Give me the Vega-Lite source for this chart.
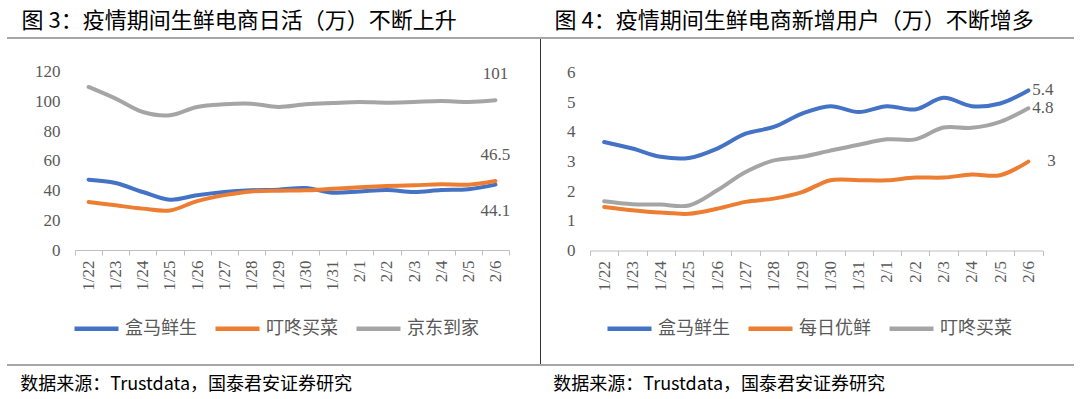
{
  "$schema": "https://vega.github.io/schema/vega-lite/v6.json",
  "padding": {"left": -2, "top": 10, "right": 0, "bottom": 0},
  "bounds": "flush",
  "spacing": 0,
  "background": "white",
  "config": {"view": {"stroke": null}},
  "datasets": {
    "left": [
      {"d": "1/22", "s": "盒马鲜生", "v": 47.4}, {"d": "1/23", "s": "盒马鲜生", "v": 45.2}, {"d": "1/24", "s": "盒马鲜生", "v": 39.1}, {"d": "1/25", "s": "盒马鲜生", "v": 33.9},
      {"d": "1/26", "s": "盒马鲜生", "v": 36.9}, {"d": "1/27", "s": "盒马鲜生", "v": 39.1}, {"d": "1/28", "s": "盒马鲜生", "v": 40.3}, {"d": "1/29", "s": "盒马鲜生", "v": 40.7},
      {"d": "1/30", "s": "盒马鲜生", "v": 41.8}, {"d": "1/31", "s": "盒马鲜生", "v": 38.6}, {"d": "2/1", "s": "盒马鲜生", "v": 39.5}, {"d": "2/2", "s": "盒马鲜生", "v": 40.5},
      {"d": "2/3", "s": "盒马鲜生", "v": 39.1}, {"d": "2/4", "s": "盒马鲜生", "v": 40.5}, {"d": "2/5", "s": "盒马鲜生", "v": 41.0}, {"d": "2/6", "s": "盒马鲜生", "v": 44.1},
      {"d": "1/22", "s": "叮咚买菜", "v": 32.4}, {"d": "1/23", "s": "叮咚买菜", "v": 30.1}, {"d": "1/24", "s": "叮咚买菜", "v": 27.9}, {"d": "1/25", "s": "叮咚买菜", "v": 26.7},
      {"d": "1/26", "s": "叮咚买菜", "v": 33.0}, {"d": "1/27", "s": "叮咚买菜", "v": 37.0}, {"d": "1/28", "s": "叮咚买菜", "v": 39.5}, {"d": "1/29", "s": "叮咚买菜", "v": 40.0},
      {"d": "1/30", "s": "叮咚买菜", "v": 40.2}, {"d": "1/31", "s": "叮咚买菜", "v": 41.3}, {"d": "2/1", "s": "叮咚买菜", "v": 42.3}, {"d": "2/2", "s": "叮咚买菜", "v": 43.1},
      {"d": "2/3", "s": "叮咚买菜", "v": 43.6}, {"d": "2/4", "s": "叮咚买菜", "v": 44.3}, {"d": "2/5", "s": "叮咚买菜", "v": 44.0}, {"d": "2/6", "s": "叮咚买菜", "v": 46.5},
      {"d": "1/22", "s": "京东到家", "v": 109.9}, {"d": "1/23", "s": "京东到家", "v": 102.0}, {"d": "1/24", "s": "京东到家", "v": 93.0}, {"d": "1/25", "s": "京东到家", "v": 90.8},
      {"d": "1/26", "s": "京东到家", "v": 96.4}, {"d": "1/27", "s": "京东到家", "v": 98.2}, {"d": "1/28", "s": "京东到家", "v": 98.6}, {"d": "1/29", "s": "京东到家", "v": 96.4},
      {"d": "1/30", "s": "京东到家", "v": 98.2}, {"d": "1/31", "s": "京东到家", "v": 99.1}, {"d": "2/1", "s": "京东到家", "v": 99.8}, {"d": "2/2", "s": "京东到家", "v": 99.3},
      {"d": "2/3", "s": "京东到家", "v": 99.8}, {"d": "2/4", "s": "京东到家", "v": 100.4}, {"d": "2/5", "s": "京东到家", "v": 99.8}, {"d": "2/6", "s": "京东到家", "v": 101}
    ],
    "right": [
      {"d": "1/22", "s": "盒马鲜生", "v": 3.66}, {"d": "1/23", "s": "盒马鲜生", "v": 3.44}, {"d": "1/24", "s": "盒马鲜生", "v": 3.16}, {"d": "1/25", "s": "盒马鲜生", "v": 3.12},
      {"d": "1/26", "s": "盒马鲜生", "v": 3.44}, {"d": "1/27", "s": "盒马鲜生", "v": 3.94}, {"d": "1/28", "s": "盒马鲜生", "v": 4.17}, {"d": "1/29", "s": "盒马鲜生", "v": 4.62},
      {"d": "1/30", "s": "盒马鲜生", "v": 4.87}, {"d": "1/31", "s": "盒马鲜生", "v": 4.67}, {"d": "2/1", "s": "盒马鲜生", "v": 4.87}, {"d": "2/2", "s": "盒马鲜生", "v": 4.76},
      {"d": "2/3", "s": "盒马鲜生", "v": 5.15}, {"d": "2/4", "s": "盒马鲜生", "v": 4.87}, {"d": "2/5", "s": "盒马鲜生", "v": 4.96}, {"d": "2/6", "s": "盒马鲜生", "v": 5.4},
      {"d": "1/22", "s": "每日优鲜", "v": 1.47}, {"d": "1/23", "s": "每日优鲜", "v": 1.36}, {"d": "1/24", "s": "每日优鲜", "v": 1.28}, {"d": "1/25", "s": "每日优鲜", "v": 1.24},
      {"d": "1/26", "s": "每日优鲜", "v": 1.41}, {"d": "1/27", "s": "每日优鲜", "v": 1.64}, {"d": "1/28", "s": "每日优鲜", "v": 1.75}, {"d": "1/29", "s": "每日优鲜", "v": 1.97},
      {"d": "1/30", "s": "每日优鲜", "v": 2.37}, {"d": "1/31", "s": "每日优鲜", "v": 2.37}, {"d": "2/1", "s": "每日优鲜", "v": 2.37}, {"d": "2/2", "s": "每日优鲜", "v": 2.46},
      {"d": "2/3", "s": "每日优鲜", "v": 2.46}, {"d": "2/4", "s": "每日优鲜", "v": 2.56}, {"d": "2/5", "s": "每日优鲜", "v": 2.54}, {"d": "2/6", "s": "每日优鲜", "v": 3},
      {"d": "1/22", "s": "叮咚买菜", "v": 1.66}, {"d": "1/23", "s": "叮咚买菜", "v": 1.56}, {"d": "1/24", "s": "叮咚买菜", "v": 1.55}, {"d": "1/25", "s": "叮咚买菜", "v": 1.52},
      {"d": "1/26", "s": "叮咚买菜", "v": 2.03}, {"d": "1/27", "s": "叮咚买菜", "v": 2.65}, {"d": "1/28", "s": "叮咚买菜", "v": 3.04}, {"d": "1/29", "s": "叮咚买菜", "v": 3.16},
      {"d": "1/30", "s": "叮咚买菜", "v": 3.37}, {"d": "1/31", "s": "叮咚买菜", "v": 3.57}, {"d": "2/1", "s": "叮咚买菜", "v": 3.75}, {"d": "2/2", "s": "叮咚买菜", "v": 3.75},
      {"d": "2/3", "s": "叮咚买菜", "v": 4.15}, {"d": "2/4", "s": "叮咚买菜", "v": 4.14}, {"d": "2/5", "s": "叮咚买菜", "v": 4.34}, {"d": "2/6", "s": "叮咚买菜", "v": 4.8}
    ]
  },
  "hconcat": [
    {
      "width": 533,
      "height": 327,
      "title": {"text": "图 3：疫情期间生鲜电商日活（万）不断上升", "anchor": "start", "frame": "group", "dx": 14.5, "offset": -13, "fontSize": 22, "font": "Noto Sans CJK SC", "fontWeight": "normal", "color": "#000000", "baseline": "alphabetic"},
      "data": {"name": "left"},
      "layer": [
        {
          "data": {"values": [{}]},
          "mark": {"type": "rule", "color": "#a6a6a6", "strokeWidth": 1.8},
          "encoding": {"y": {"datum": 142.9, "type": "quantitative", "scale": {"domain": [-77.5, 142.9], "nice": false, "zero": false}, "axis": null}}
        },
        {
          "data": {"values": [{}]},
          "mark": {"type": "rule", "color": "#a6a6a6", "strokeWidth": 1.8},
          "encoding": {"y": {"datum": -77.5, "type": "quantitative", "scale": {"domain": [-77.5, 142.9], "nice": false, "zero": false},
            "axis": {"orient": "right", "labels": false, "ticks": false, "domain": true, "domainColor": "#333333", "domainWidth": 1, "grid": false, "title": null}}}
        },
        {
          "mark": {"type": "line", "strokeWidth": 4, "interpolate": "catmull-rom", "strokeCap": "round"},
          "encoding": {
            "x": {"field": "d", "type": "ordinal", "bandPosition": 0.5,
              "scale": {"type": "band", "domain": ["1/22","1/23","1/24","1/25","1/26","1/27","1/28","1/29","1/30","1/31","2/1","2/2","2/3","2/4","2/5","2/6"], "range": [68, 502], "paddingInner": 0, "paddingOuter": 0},
              "axis": {"orient": "bottom", "offset": -115, "domainColor": "#bfbfbf", "tickColor": "#bfbfbf", "tickSize": 5, "tickBand": "extent", "labelAngle": 270, "labelPadding": 5, "labelFont": "Liberation Serif", "labelFontSize": 17, "labelColor": "#595959", "labelOverlap": false, "grid": false,
                "title": "数据来源：Trustdata，国泰君安证券研究", "titleX": 12.8, "titleY": 134, "titleAlign": "left", "titleBaseline": "middle", "titleFont": "Noto Sans CJK SC", "titleFontSize": 18, "titleFontWeight": "normal", "titleColor": "#000000"}},
            "y": {"field": "v", "type": "quantitative", "scale": {"domain": [-77.5, 142.9], "nice": false, "zero": false},
              "axis": {"orient": "left", "offset": -68, "values": [0, 20, 40, 60, 80, 100, 120], "domain": false, "ticks": false, "tickSize": 0, "grid": false, "labelPadding": 15, "labelFont": "Liberation Serif", "labelFontSize": 17, "labelColor": "#595959", "title": null}},
            "color": {"field": "s", "type": "nominal", "scale": {"domain": ["盒马鲜生", "叮咚买菜", "京东到家"], "range": ["#4472C4", "#ED7D31", "#A5A5A5"]},
              "legend": {"orient": "none", "legendX": 65, "legendY": 266, "direction": "horizontal", "columns": 3, "title": null, "labelFont": "Noto Sans CJK SC", "labelFontSize": 18, "labelColor": "#595959", "symbolType": "stroke", "symbolStrokeWidth": 4.5, "symbolSize": 1936, "labelOffset": 4, "columnPadding": 9, "padding": 0}}
          }
        },
        {
          "transform": [{"filter": "datum.d === '2/6' && datum.s !== '盒马鲜生'"}],
          "mark": {"type": "text", "dy": -26, "font": "Liberation Serif", "fontSize": 17, "color": "#595959", "align": "center", "baseline": "middle"},
          "encoding": {
            "x": {"field": "d", "type": "ordinal", "bandPosition": 0.5, "scale": {"type": "band", "domain": ["1/22","1/23","1/24","1/25","1/26","1/27","1/28","1/29","1/30","1/31","2/1","2/2","2/3","2/4","2/5","2/6"], "range": [68, 502], "paddingInner": 0, "paddingOuter": 0}},
            "y": {"field": "v", "type": "quantitative", "scale": {"domain": [-77.5, 142.9], "nice": false, "zero": false}, "axis": null},
            "text": {"field": "v", "type": "nominal"}
          }
        },
        {
          "transform": [{"filter": "datum.d === '2/6' && datum.s === '盒马鲜生'"}],
          "mark": {"type": "text", "dy": 26, "font": "Liberation Serif", "fontSize": 17, "color": "#595959", "align": "center", "baseline": "middle"},
          "encoding": {
            "x": {"field": "d", "type": "ordinal", "bandPosition": 0.5, "scale": {"type": "band", "domain": ["1/22","1/23","1/24","1/25","1/26","1/27","1/28","1/29","1/30","1/31","2/1","2/2","2/3","2/4","2/5","2/6"], "range": [68, 502], "paddingInner": 0, "paddingOuter": 0}},
            "y": {"field": "v", "type": "quantitative", "scale": {"domain": [-77.5, 142.9], "nice": false, "zero": false}, "axis": null},
            "text": {"field": "v", "type": "nominal"}
          }
        }
      ],
      "resolve": {"axis": {"y": "independent"}}
    },
    {
      "width": 534,
      "height": 327,
      "title": {"text": "图 4：疫情期间生鲜电商新增用户（万）不断增多", "anchor": "start", "frame": "group", "dx": 14.6, "offset": -13, "fontSize": 22, "font": "Noto Sans CJK SC", "fontWeight": "normal", "color": "#000000", "baseline": "alphabetic"},
      "data": {"name": "right"},
      "layer": [
        {
          "data": {"values": [{}]},
          "mark": {"type": "rule", "color": "#a6a6a6", "strokeWidth": 1.8},
          "encoding": {"y": {"datum": 7.17, "type": "quantitative", "scale": {"domain": [-3.864, 7.17], "nice": false, "zero": false}, "axis": null}}
        },
        {
          "data": {"values": [{}]},
          "mark": {"type": "rule", "color": "#a6a6a6", "strokeWidth": 1.8},
          "encoding": {"y": {"datum": -3.864, "type": "quantitative", "scale": {"domain": [-3.864, 7.17], "nice": false, "zero": false}, "axis": null}}
        },
        {
          "mark": {"type": "line", "strokeWidth": 4, "interpolate": "catmull-rom", "strokeCap": "round"},
          "encoding": {
            "x": {"field": "d", "type": "ordinal", "bandPosition": 0.5,
              "scale": {"type": "band", "domain": ["1/22","1/23","1/24","1/25","1/26","1/27","1/28","1/29","1/30","1/31","2/1","2/2","2/3","2/4","2/5","2/6"], "range": [50, 502.5], "paddingInner": 0, "paddingOuter": 0},
              "axis": {"orient": "bottom", "offset": -114.5, "domainColor": "#bfbfbf", "tickColor": "#bfbfbf", "tickSize": 5, "tickBand": "extent", "labelAngle": 270, "labelPadding": 5, "labelFont": "Liberation Serif", "labelFontSize": 17, "labelColor": "#595959", "labelOverlap": false, "grid": false,
                "title": "数据来源：Trustdata，国泰君安证券研究", "titleX": 12.8, "titleY": 133.5, "titleAlign": "left", "titleBaseline": "middle", "titleFont": "Noto Sans CJK SC", "titleFontSize": 18, "titleFontWeight": "normal", "titleColor": "#000000"}},
            "y": {"field": "v", "type": "quantitative", "scale": {"domain": [-3.864, 7.17], "nice": false, "zero": false},
              "axis": {"orient": "left", "offset": -50, "values": [0, 1, 2, 3, 4, 5, 6], "domain": false, "ticks": false, "tickSize": 0, "grid": false, "labelPadding": 15, "labelFont": "Liberation Serif", "labelFontSize": 17, "labelColor": "#595959", "title": null}},
            "color": {"field": "s", "type": "nominal", "scale": {"domain": ["盒马鲜生", "每日优鲜", "叮咚买菜"], "range": ["#4472C4", "#ED7D31", "#A5A5A5"]},
              "legend": {"orient": "none", "legendX": 65, "legendY": 266, "direction": "horizontal", "columns": 3, "title": null, "labelFont": "Noto Sans CJK SC", "labelFontSize": 18, "labelColor": "#595959", "symbolType": "stroke", "symbolStrokeWidth": 4.5, "symbolSize": 1936, "labelOffset": 4, "columnPadding": 9, "padding": 0}}
          }
        },
        {
          "transform": [{"filter": "datum.d === '2/6' && datum.s !== '每日优鲜'"}],
          "mark": {"type": "text", "dx": 4, "font": "Liberation Serif", "fontSize": 17, "color": "#595959", "align": "left", "baseline": "middle"},
          "encoding": {
            "x": {"field": "d", "type": "ordinal", "bandPosition": 0.5, "scale": {"type": "band", "domain": ["1/22","1/23","1/24","1/25","1/26","1/27","1/28","1/29","1/30","1/31","2/1","2/2","2/3","2/4","2/5","2/6"], "range": [50, 502.5], "paddingInner": 0, "paddingOuter": 0}},
            "y": {"field": "v", "type": "quantitative", "scale": {"domain": [-3.864, 7.17], "nice": false, "zero": false}, "axis": null},
            "text": {"field": "v", "type": "nominal"}
          }
        },
        {
          "transform": [{"filter": "datum.d === '2/6' && datum.s === '每日优鲜'"}],
          "mark": {"type": "text", "dx": 19, "dy": -1, "font": "Liberation Serif", "fontSize": 17, "color": "#595959", "align": "left", "baseline": "middle"},
          "encoding": {
            "x": {"field": "d", "type": "ordinal", "bandPosition": 0.5, "scale": {"type": "band", "domain": ["1/22","1/23","1/24","1/25","1/26","1/27","1/28","1/29","1/30","1/31","2/1","2/2","2/3","2/4","2/5","2/6"], "range": [50, 502.5], "paddingInner": 0, "paddingOuter": 0}},
            "y": {"field": "v", "type": "quantitative", "scale": {"domain": [-3.864, 7.17], "nice": false, "zero": false}, "axis": null},
            "text": {"field": "v", "type": "nominal"}
          }
        }
      ],
      "resolve": {"axis": {"y": "independent"}}
    }
  ],
  "resolve": {"scale": {"color": "independent", "x": "independent", "y": "independent"}, "legend": {"color": "independent"}}
}
